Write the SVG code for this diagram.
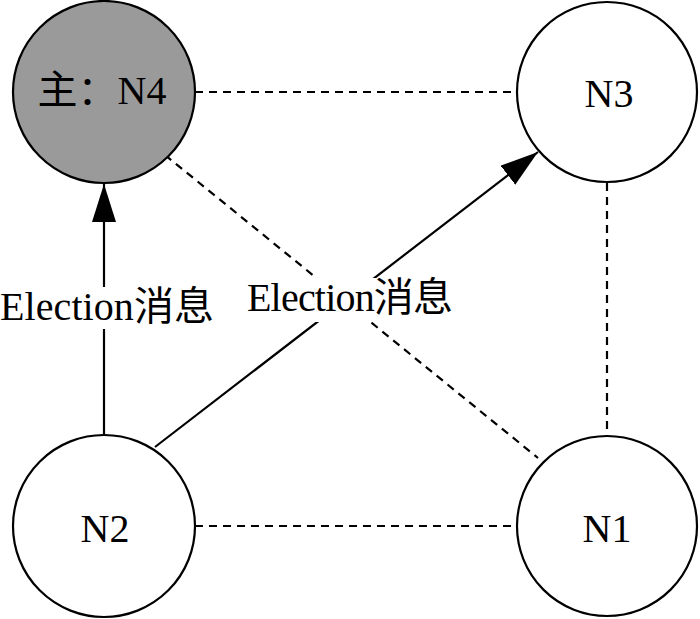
<svg xmlns="http://www.w3.org/2000/svg" width="700" height="619" viewBox="0 0 700 619">
<style>
.node{stroke:#000;stroke-width:2.2;fill:#fff}
.lbl{font-family:"Liberation Serif","Noto Sans CJK SC",serif;font-size:40px;fill:#000}
.dash{stroke:#000;stroke-width:2.2;stroke-dasharray:8 6;fill:none}
.solid{stroke:#000;stroke-width:2.2;fill:none}
.bg{fill:#fff}
</style>
<defs>
<marker id="arr" markerUnits="userSpaceOnUse" markerWidth="40" markerHeight="26" refX="38" refY="12" orient="auto">
<path d="M0,0 L38,12 L0,24 Z" fill="#000"/>
</marker>
</defs>
<rect width="700" height="619" fill="#fff"/>
<g id="connectors">
<line class="dash" x1="195" y1="92" x2="517" y2="92"/>
<line class="dash" x1="607" y1="183" x2="607" y2="435"/>
<line class="dash" x1="195" y1="526" x2="517" y2="526"/>
<line class="dash" x1="165" y1="155" x2="538" y2="458"/>
<line class="solid" x1="104" y1="435" x2="104" y2="184" marker-end="url(#arr)"/>
<line class="solid" x1="155" y1="447" x2="538" y2="152" marker-end="url(#arr)"/>
<rect class="bg" x="0" y="287" width="216" height="42"/>
<text class="lbl" x="0" y="320" textLength="214">Election消息</text>
<rect class="bg" x="246" y="278" width="208" height="44"/>
<text class="lbl" x="247" y="311" textLength="206">Election消息</text>
</g>
<g id="N4">
<circle cx="104" cy="92" r="91" class="node" style="fill:#9a9a9a"/>
<text class="lbl" x="102" y="104" text-anchor="middle">主：N4</text>
</g>
<g id="N3">
<circle cx="607" cy="92" r="90" class="node"/>
<text class="lbl" x="609" y="107" text-anchor="middle">N3</text>
</g>
<g id="N2">
<circle cx="104" cy="526" r="91" class="node"/>
<text class="lbl" x="105" y="542" text-anchor="middle">N2</text>
</g>
<g id="N1">
<circle cx="607" cy="526" r="90" class="node"/>
<text class="lbl" x="607" y="542" text-anchor="middle">N1</text>
</g>
</svg>
